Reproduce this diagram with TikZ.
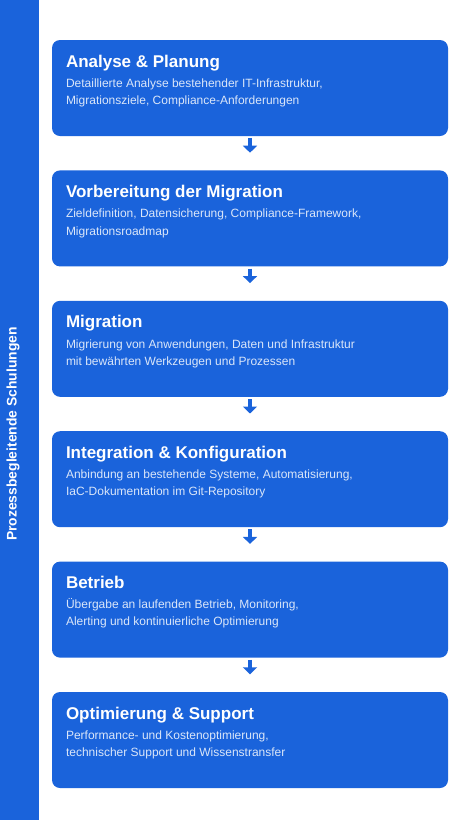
\documentclass[tikz,border=0pt]{standalone}
\usepackage{fontspec}
\setmainfont{Liberation Sans}
\usepackage{xcolor}
\usetikzlibrary{arrows.meta, positioning}
\definecolor{phaseblue}{HTML}{1A63DB}
\colorlet{desctext}{white!84!phaseblue}
\tikzset{
    phase/.style={
        rectangle,
        rounded corners=8pt,
        fill=phaseblue,
        minimum width=396pt,
        minimum height=96pt,
        inner sep=0pt
    },
    phasetitle/.style={
        anchor=base west,
        inner sep=0pt,
        text=white,
        font=\fontsize{17}{20}\selectfont\bfseries
    },
    phasedesc/.style={
        anchor=north west,
        inner sep=0pt,
        align=left,
        text=desctext,
        font=\fontsize{12}{17.5}\selectfont,
        execute at begin node={\rule{0pt}{14pt}}
    },
    flow/.style={
        draw=phaseblue,
        line width=4pt,
        shorten <=2pt,
        shorten >=17.5pt,
        -{Triangle[width=14pt, length=7pt]}
    }
}

\begin{document}
\begin{tikzpicture}[x=1pt, y=-1pt, node distance=34pt]

\useasboundingbox (0,0) rectangle (460,820);

% side bar
\node[fill=phaseblue, minimum width=39pt, minimum height=820pt, inner sep=0pt] (bar) at (19.5,410) {};
\node[rotate=90, text=white, font=\fontsize{13.9}{16}\selectfont\bfseries] (barlabel) at (13,434) {Prozessbegleitende Schulungen};

% phases
\node[phase] (p1) at (250,88) {};
\node[phase, below=of p1] (p2) {};
\node[phase, below=of p2] (p3) {};
\node[phase, below=of p3] (p4) {};
\node[phase, below=of p4] (p5) {};
\node[phase, below=of p5] (p6) {};

\node[phasetitle] (t1) at ([xshift=14pt, yshift=-27.3pt]p1.north west) {Analyse \& Planung};
\node[phasedesc] (d1) at ([xshift=14pt, yshift=-38.5pt]p1.north west) {Detaillierte Analyse bestehender IT-Infrastruktur,\\Migrationsziele, Compliance-Anforderungen};

\node[phasetitle] (t2) at ([xshift=14pt, yshift=-27.3pt]p2.north west) {Vorbereitung der Migration};
\node[phasedesc] (d2) at ([xshift=14pt, yshift=-38.5pt]p2.north west) {Zieldefinition, Datensicherung, Compliance-Framework,\\Migrationsroadmap};

\node[phasetitle] (t3) at ([xshift=14pt, yshift=-27.3pt]p3.north west) {Migration};
\node[phasedesc] (d3) at ([xshift=14pt, yshift=-38.5pt]p3.north west) {Migrierung von Anwendungen, Daten und Infrastruktur\\mit bewährten Werkzeugen und Prozessen};

\node[phasetitle] (t4) at ([xshift=14pt, yshift=-27.3pt]p4.north west) {Integration \& Konfiguration};
\node[phasedesc] (d4) at ([xshift=14pt, yshift=-38.5pt]p4.north west) {Anbindung an bestehende Systeme, Automatisierung,\\IaC-Dokumentation im Git-Repository};

\node[phasetitle] (t5) at ([xshift=14pt, yshift=-27.3pt]p5.north west) {Betrieb};
\node[phasedesc] (d5) at ([xshift=14pt, yshift=-36.5pt]p5.north west) {Übergabe an laufenden Betrieb, Monitoring,\\Alerting und kontinuierliche Optimierung};

\node[phasetitle] (t6) at ([xshift=14pt, yshift=-27.3pt]p6.north west) {Optimierung \& Support};
\node[phasedesc] (d6) at ([xshift=14pt, yshift=-38.5pt]p6.north west) {Performance- und Kostenoptimierung,\\technischer Support und Wissenstransfer};

\draw[flow] (p1) -- (p2);
\draw[flow] (p2) -- (p3);
\draw[flow] (p3) -- (p4);
\draw[flow] (p4) -- (p5);
\draw[flow] (p5) -- (p6);

\end{tikzpicture}
\end{document}
